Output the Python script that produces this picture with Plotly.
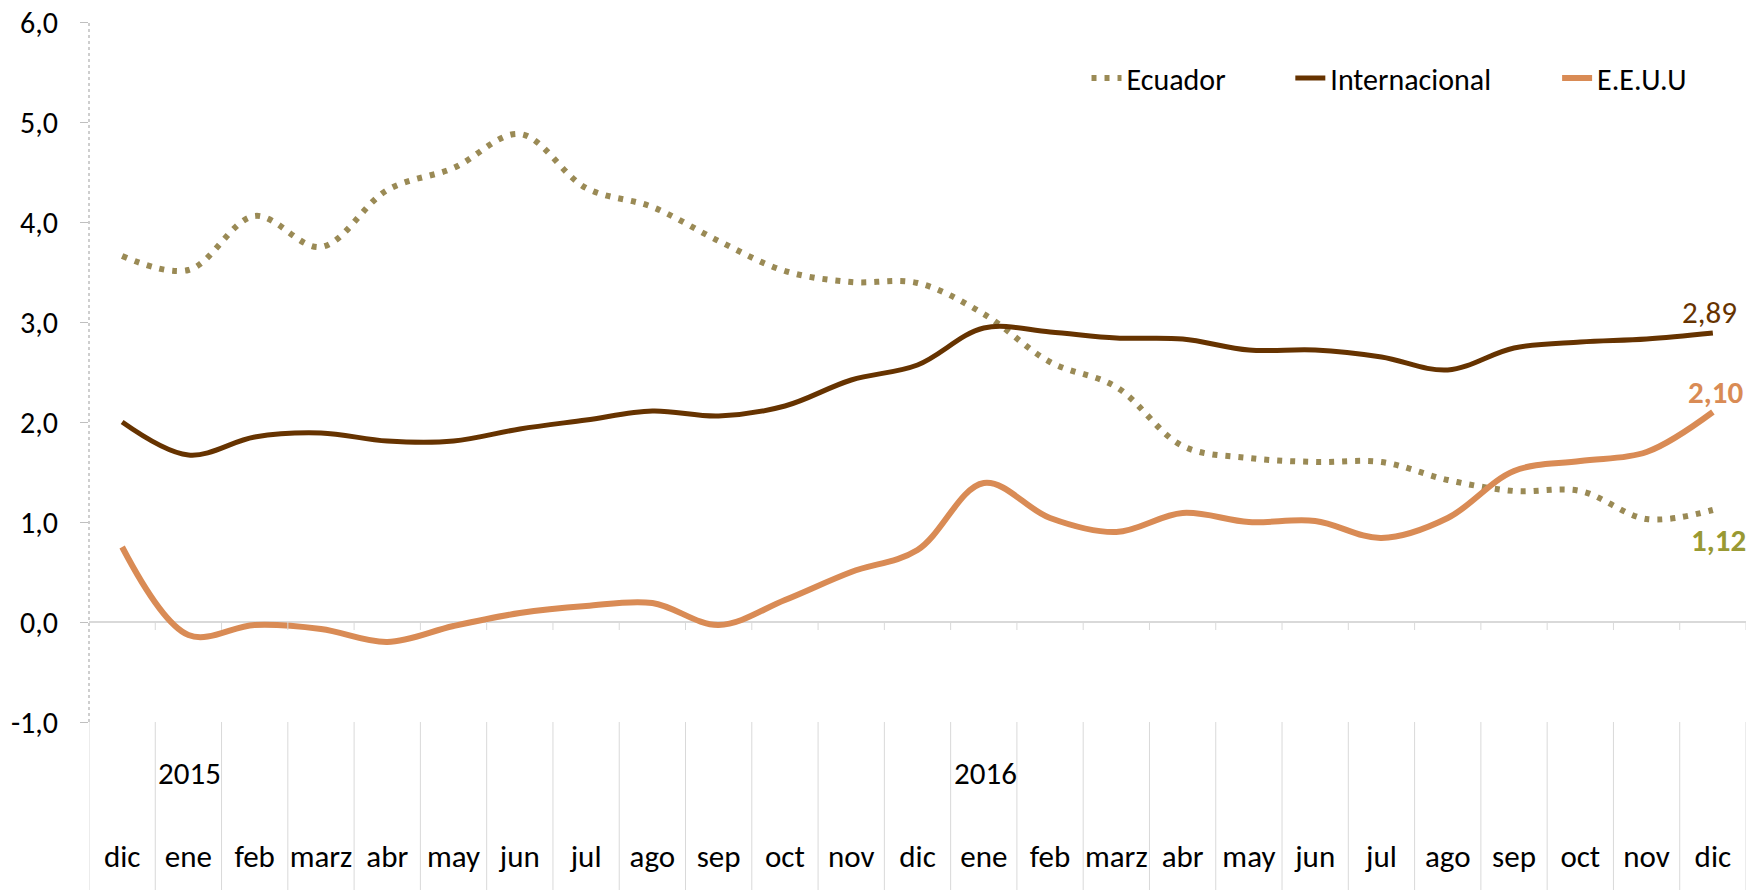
import plotly.graph_objects as go

months = ["dic", "ene", "feb", "marz", "abr", "may", "jun", "jul", "ago", "sep", "oct", "nov",
          "dic", "ene", "feb", "marz", "abr", "may", "jun", "jul", "ago", "sep", "oct", "nov", "dic"]
year_labels = ["2015", "2016"]
year_positions = [1, 13]
y_ticks = [-1, 0, 1, 2, 3, 4, 5, 6]
y_ticktext = ["-1,0", "0,0", "1,0", "2,0", "3,0", "4,0", "5,0", "6,0"]

ecuador = [3.66, 3.52, 4.06, 3.75, 4.32, 4.54, 4.88, 4.34, 4.15, 3.81, 3.51, 3.40, 3.39,
           3.08, 2.60, 2.35, 1.76, 1.64, 1.60, 1.60, 1.42, 1.31, 1.31, 1.03, 1.12]
internacional = [2.00, 1.67, 1.85, 1.89, 1.81, 1.81, 1.93, 2.02, 2.11, 2.06, 2.16, 2.42, 2.57,
                 2.94, 2.90, 2.84, 2.83, 2.72, 2.72, 2.65, 2.52, 2.74, 2.80, 2.83, 2.89]
eeuu = [0.75, -0.13, -0.03, -0.07, -0.20, -0.04, 0.09, 0.16, 0.19, -0.03, 0.22, 0.50, 0.72,
        1.39, 1.04, 0.90, 1.09, 1.00, 1.01, 0.84, 1.04, 1.51, 1.61, 1.70, 2.10]

C_ECU = "#9A8A55"
C_INT = "#663300"
C_USA = "#D98B55"
C_ECU_LBL = "#999933"

LABEL_FONT = "Carlito, Calibri, Lato, sans-serif"
x = list(range(len(months)))

fig = go.Figure()
fig.add_trace(go.Scatter(x=x, y=ecuador, name="Ecuador", mode="lines", line_shape="spline",
                         line=dict(color=C_ECU, width=6, dash="5px,8px"), legend="legend"))
fig.add_trace(go.Scatter(x=x, y=internacional, name="Internacional", mode="lines", line_shape="spline",
                         line=dict(color=C_INT, width=5), legend="legend2"))
fig.add_trace(go.Scatter(x=x, y=eeuu, name="E.E.U.U", mode="lines", line_shape="spline",
                         line=dict(color=C_USA, width=6), legend="legend3"))

def fmt(v):
    return f"{v:.2f}".replace(".", ",")

annotations = [
    dict(x=x[-1], y=internacional[-1], text=fmt(internacional[-1]), showarrow=False, yshift=21, xshift=-3,
         font=dict(family=LABEL_FONT, size=31, color=C_INT)),
    dict(x=x[-1], y=eeuu[-1], text="<b>" + fmt(eeuu[-1]) + "</b>", showarrow=False, yshift=20, xshift=3,
         font=dict(family=LABEL_FONT, size=31, color=C_USA)),
    dict(x=x[-1], y=ecuador[-1], text="<b>" + fmt(ecuador[-1]) + "</b>", showarrow=False, yshift=-30, xshift=6,
         font=dict(family=LABEL_FONT, size=31, color=C_ECU_LBL)),
]
for yl, yp in zip(year_labels, year_positions):
    annotations.append(dict(x=yp - 0.5, xanchor="left", y=-0.073, yref="paper", yanchor="middle",
                            text=yl, showarrow=False, xshift=1,
                            font=dict(family=LABEL_FONT, size=31, color="#000000")))

shapes = []
for i in range(len(months) + 1):
    shapes.append(dict(type="line", xref="x", yref="paper", x0=i - 0.5, x1=i - 0.5, y0=0, y1=-0.26,
                       line=dict(color="#D9D9D9", width=1)))
    if 0 < i <= len(months):
        shapes.append(dict(type="line", xref="x", yref="y", x0=i - 0.5, x1=i - 0.5, y0=0, y1=-0.08,
                           line=dict(color="#D9D9D9", width=1)))
shapes.append(dict(type="line", xref="paper", yref="paper", x0=0, x1=0, y0=0, y1=1,
                   line=dict(color="#BFBFBF", width=1.5, dash="dot")))

leg_font = dict(family=LABEL_FONT, size=30, color="#000000")
leg_common = dict(orientation="h", xanchor="left", y=0.92, yanchor="middle",
                  font=leg_font, bgcolor="rgba(0,0,0,0)")

fig.update_layout(
    width=1761, height=890,
    margin=dict(l=89, r=15, t=22, b=168, autoexpand=False),
    paper_bgcolor="white", plot_bgcolor="white",
    showlegend=True,
    legend=dict(x=0.602, **leg_common),
    legend2=dict(x=0.725, **leg_common),
    legend3=dict(x=0.886, **leg_common),
    xaxis=dict(range=[-0.5, len(months) - 0.5], tickmode="array", tickvals=x, ticktext=months,
               showgrid=False, zeroline=False, showline=False, ticks="", automargin=False,
               ticklabelstandoff=113,
               tickfont=dict(family=LABEL_FONT, size=31, color="#000000")),
    yaxis=dict(range=[-1, 6], tickmode="array", tickvals=y_ticks, ticktext=y_ticktext,
               showgrid=False, automargin=False, ticklabeloverflow="allow",
               zeroline=True, zerolinecolor="#D9D9D9", zerolinewidth=1.5,
               ticks="outside", ticklen=8, tickcolor="#BFBFBF",
               ticklabelstandoff=16,
               tickfont=dict(family=LABEL_FONT, size=30, color="#000000")),
    annotations=annotations,
    shapes=shapes,
)

fig.write_html("out.html", config={"displayModeBar": False},
               post_script="document.body.style.margin='0px';document.body.style.overflow='hidden';")
